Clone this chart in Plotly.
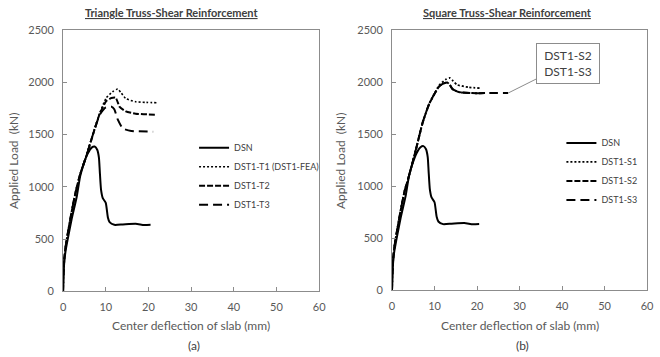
import plotly.graph_objects as go

# ---------------- data ----------------
dsn_x = [0, 0.1, 0.3, 0.6, 1.0, 2.0, 3.2, 4.0, 4.8, 5.8, 6.7, 7.4, 8.0, 8.4, 8.6, 8.9, 9.3, 10.0, 10.5, 10.9, 12.0, 14.0, 17.0, 19.0, 20.5]
dsn_y = [0, 150, 290, 390, 480, 690, 905, 1100, 1215, 1320, 1375, 1385, 1355, 1280, 1150, 970, 892, 846, 707, 661, 636, 640, 646, 634, 636]

t1_x = [0, 0.1, 0.3, 0.6, 1.0, 2.0, 3.0, 4.0, 5.5, 7.0, 8.6, 10.1, 11.6, 12.8, 13.6, 14.7, 17.0, 19.5, 22.1]
t1_y = [0, 170, 320, 430, 530, 760, 960, 1120, 1307, 1507, 1707, 1850, 1910, 1937, 1900, 1845, 1814, 1808, 1805]

t2_x = [0, 0.1, 0.3, 0.6, 1.0, 2.0, 3.0, 4.0, 5.5, 7.0, 8.6, 10.1, 11.3, 12.3, 12.8, 13.2, 14.7, 17.0, 21.5]
t2_y = [0, 170, 320, 430, 530, 760, 960, 1120, 1300, 1500, 1700, 1820, 1850, 1854, 1810, 1768, 1722, 1700, 1691]

t3_x = [0, 0.1, 0.3, 0.6, 1.0, 2.0, 3.0, 4.0, 5.5, 7.0, 8.6, 10.0, 11.3, 12.0, 12.8, 14.0, 16.0, 21.1]
t3_y = [0, 170, 320, 430, 530, 760, 960, 1120, 1300, 1500, 1690, 1760, 1768, 1743, 1645, 1559, 1535, 1528]

s1_x = [0, 0.1, 0.3, 0.6, 1.0, 2.0, 3.0, 3.8, 5.7, 7.2, 8.8, 11.1, 12.6, 13.6, 14.4, 15.3, 18.0, 20.7]
s1_y = [0, 170, 320, 430, 530, 760, 960, 1071, 1364, 1611, 1796, 1970, 2025, 2040, 2010, 1975, 1951, 1942]

s2_x = [0, 0.1, 0.3, 0.6, 1.0, 2.0, 3.0, 3.8, 5.7, 7.2, 8.8, 11.1, 12.3, 13.0, 13.6, 14.2, 15.7, 18.8, 22.0]
s2_y = [0, 170, 320, 430, 530, 760, 960, 1071, 1364, 1611, 1796, 1960, 1990, 1997, 1975, 1935, 1905, 1895, 1895]

s3_x = [0, 0.1, 0.3, 0.6, 1.0, 2.0, 3.0, 3.8, 5.7, 7.2, 8.8, 11.1, 12.3, 13.0, 13.6, 14.2, 15.7, 18.8, 23.0, 27.3]
s3_y = [0, 170, 320, 430, 530, 760, 960, 1071, 1364, 1611, 1796, 1960, 1990, 1997, 1975, 1935, 1905, 1895, 1895, 1895]

x_ticks = [0, 10, 20, 30, 40, 50, 60]
y_ticks = [0, 500, 1000, 1500, 2000, 2500]

FONT = "Lato"
GRAY = "#595959"
AXC = "#8c8c8c"

fig = go.Figure()

def add(x, y, name, dash, width, xa, ya, legend):
    fig.add_trace(go.Scatter(x=x, y=y, name=name, mode="lines",
                             line=dict(color="black", width=width, dash=dash, shape="spline", smoothing=0.5),
                             xaxis=xa, yaxis=ya, legend=legend))

DOT = "2px,2px"
SHORT = "6px,2px"
LONG = "9px,5px"

add(dsn_x, dsn_y, "DSN", "solid", 2, "x", "y", "legend")
add(t1_x, t1_y, "DST1-T1 (DST1-FEA)", DOT, 1.6, "x", "y", "legend")
add(t2_x, t2_y, "DST1-T2", SHORT, 2, "x", "y", "legend")
add(t3_x, t3_y, "DST1-T3", LONG, 2, "x", "y", "legend")

add(dsn_x, dsn_y, "DSN", "solid", 2, "x2", "y2", "legend2")
add(s1_x, s1_y, "DST1-S1", DOT, 1.8, "x2", "y2", "legend2")
add(s2_x, s2_y, "DST1-S2", SHORT, 2, "x2", "y2", "legend2")
add(s3_x, s3_y, "DST1-S3", LONG, 2, "x2", "y2", "legend2")

ax_common = dict(showgrid=False, zeroline=False, showline=True, linecolor=AXC, linewidth=1,
                 mirror=True, ticks="inside", ticklen=4, tickcolor=AXC,
                 tickfont=dict(family=FONT, size=11, color=GRAY), ticklabelstandoff=6)

fig.update_layout(
    width=660, height=357,
    margin=dict(l=0, r=0, t=0, b=0),
    paper_bgcolor="white", plot_bgcolor="white",
    font=dict(family=FONT, color=GRAY),
    xaxis=dict(domain=[61/660, 321/660], range=[0, 60], tickvals=x_ticks, anchor="y", **ax_common),
    yaxis=dict(domain=[1-295/357, 1-24/357], range=[0, 2500], tickvals=y_ticks, anchor="x", **ax_common),
    xaxis2=dict(domain=[395/660, 654/660], range=[0, 60], tickvals=x_ticks, anchor="y2", **ax_common),
    yaxis2=dict(domain=[1-294/357, 1-24/357], range=[0, 2500], tickvals=y_ticks, anchor="x2", **ax_common),
    legend=dict(x=194/660, xanchor="left", y=1-131/357, yanchor="top", bgcolor="rgba(0,0,0,0)",
                font=dict(family=FONT, size=9, color="#404040"), itemwidth=30),
    legend2=dict(x=567/660, xanchor="left", y=1-126/357, yanchor="top", bgcolor="rgba(0,0,0,0)",
                 font=dict(family=FONT, size=9, color="#404040"), itemwidth=30),
    showlegend=True,
)

def pa(**kw):
    d = dict(xref="paper", yref="paper", showarrow=False, xanchor="center", yanchor="middle")
    d.update(kw)
    return d

ann = []
ann.append(pa(text="<b><u>Triangle Truss-Shear Reinforcement</u></b>", x=171/660, y=1-6/357,
              font=dict(family=FONT, size=11, color="#404040")))
ann.append(pa(text="<b><u>Square Truss-Shear Reinforcement</u></b>", x=512/660, y=1-6/357,
              font=dict(family=FONT, size=11, color="#404040")))
for xc, lab in [(191, "(a)"), (524.5, "(b)")]:
    ann.append(pa(text="Center deflection of slab (mm)", x=xc/660, y=1-331/357,
                  font=dict(family=FONT, size=12, color=GRAY)))
    ann.append(pa(text=lab, x=(xc + 3)/660, y=1-351/357,
                  font=dict(family=FONT, size=12, color="#404040")))
for xc in [10, 342]:
    ann.append(pa(text="Applied Load  (kN)", x=xc/660, y=1-160/357, textangle=-90,
                  font=dict(family=FONT, size=12, color=GRAY)))
ann.append(dict(text="DST1-S2<br>DST1-S3", x=s3_x[-1], y=s3_y[-1], xref="x2", yref="y2",
                showarrow=True, arrowhead=0, arrowwidth=1, arrowcolor=AXC, ax=60, ay=-30,
                width=54, height=31, borderpad=4,
                bordercolor=AXC, borderwidth=1, bgcolor="white",
                font=dict(family=FONT, size=12, color="#404040")))
fig.update_layout(annotations=ann)

fig.write_html("out.html")
